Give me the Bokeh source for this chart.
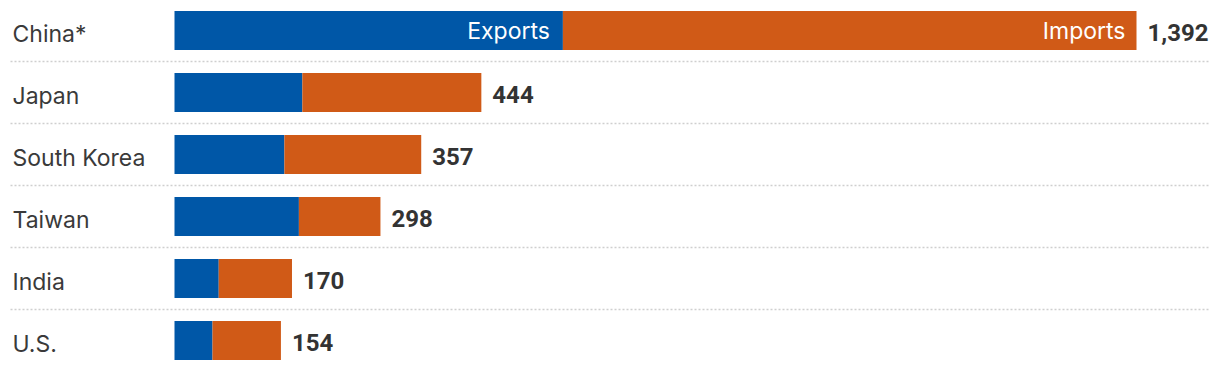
from bokeh.plotting import figure
from bokeh.models import Range1d, ColumnDataSource
from bokeh.core.properties import value
from bokeh.embed import file_html
from bokeh.resources import INLINE

countries = ["China*", "Japan", "South Korea", "Taiwan", "India", "U.S."]
exports = [562, 185, 159, 180, 64, 55]
imports = [830, 259, 198, 118, 106, 99]
totals = [1392, 444, 357, 298, 170, 154]
total_labels = ["1,392", "444", "357", "298", "170", "154"]

BLUE = "#0057a7"
ORANGE = "#d05a17"
W, H = 1220, 370
scale = 962 / 1392.0  # px per unit
x0px = 174
x_start = -x0px / scale
x_end = (W - x0px) / scale
pitch = 62.0
first_center = 30.0
y_top = -first_center / pitch
y_bot = (H - first_center) / pitch

p = figure(width=W, height=H, output_backend="svg", toolbar_location=None,
           x_range=Range1d(x_start, x_end), y_range=Range1d(y_bot, y_top),
           min_border=0, outline_line_color=None)
p.axis.visible = False
p.grid.visible = False
p.background_fill_color = "white"
p.border_fill_color = "white"

ys = list(range(len(countries)))
ends = [e + i for e, i in zip(exports, imports)]
src = ColumnDataSource(dict(y=ys, country=countries, exp=exports, imp=imports,
                            end=ends, total=totals, tlab=total_labels,
                            zero=[0] * len(ys)))

bh = 39 / pitch
p.hbar(y="y", left="zero", right="exp", height=bh, source=src,
       fill_color=BLUE, line_color=None)
p.hbar(y="y", left="exp", right="end", height=bh, source=src,
       fill_color=ORANGE, line_color=None)

# separators
sep_y = [i + 0.5 for i in range(len(countries) - 1)]
lx0 = (10 - x0px) / scale
lx1 = (1210 - x0px) / scale
p.segment(x0=[lx0] * len(sep_y), x1=[lx1] * len(sep_y), y0=sep_y, y1=sep_y,
          line_color="#cfcfcf", line_width=1.5, line_dash="2 2")

# country labels
lab_x = (12 - x0px) / scale
p.text(x=[lab_x] * len(ys), y=ys, text=countries, text_font=value("Inter"),
       text_font_size="23px", text_color="#3a3a3a", text_baseline="middle",
       text_align="left", y_offset=3)

# totals
p.text(x="end", y="y", text="tlab", source=src, text_font=value("Roboto"),
       text_font_style="bold", text_font_size="24px", text_color="#333333",
       text_baseline="middle", text_align="left", x_offset=11, y_offset=2)

# in-bar labels for the first row
p.text(x=[exports[0]], y=[0], text=["Exports"], text_font=value("Inter"),
       text_font_size="23px", text_color="white", text_baseline="middle",
       text_align="right", x_offset=-13, y_offset=0)
p.text(x=[ends[0]], y=[0], text=["Imports"], text_font=value("Inter"),
       text_font_size="23px", text_color="white", text_baseline="middle",
       text_align="right", x_offset=-11, y_offset=0)

open("out.html", "w").write(file_html(p, INLINE))
